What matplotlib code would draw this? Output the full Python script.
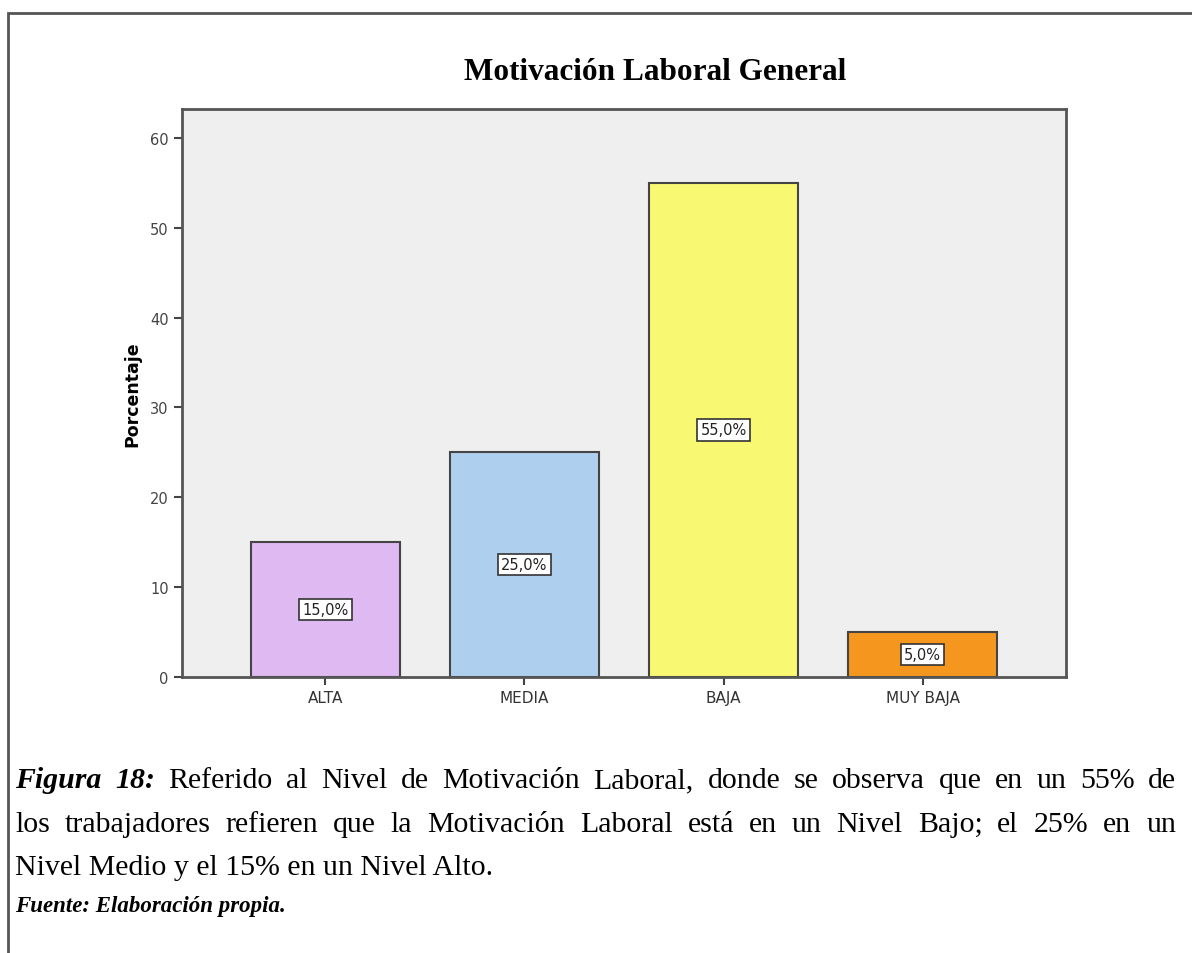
import matplotlib
matplotlib.use("Agg")
import matplotlib.pyplot as plt
from matplotlib.patches import Rectangle

# data
categories = ["ALTA", "MEDIA", "BAJA", "MUY BAJA"]
percent = [15.0, 25.0, 55.0, 5.0]
bar_colors = ["#dfb9f1", "#aecfee", "#f9f872", "#f5971f"]
y_ticks = [0, 10, 20, 30, 40, 50, 60]

title = "Motivación Laboral General"
ylabel = "Porcentaje"
caption_lines = [
    [("Figura", "bi"), ("18:", "bi"), ("Referido", "r"), ("al", "r"), ("Nivel", "r"), ("de", "r"),
     ("Motivación", "r"), ("Laboral,", "r"), ("donde", "r"), ("se", "r"), ("observa", "r"),
     ("que", "r"), ("en", "r"), ("un", "r"), (" 55%", "r"), ("de", "r")],
    [("los", "r"), ("trabajadores", "r"), ("refieren", "r"), ("que", "r"), ("la", "r"),
     ("Motivación", "r"), ("Laboral", "r"), ("está", "r"), ("en", "r"), ("un", "r"),
     ("Nivel", "r"), ("Bajo;", "r"), ("el", "r"), ("25%", "r"), ("en", "r"), ("un", "r")],
]
caption_last = "Nivel Medio y el 15% en un Nivel Alto."
source = "Fuente: Elaboración propia."

W, H = 1192, 954
fig = plt.figure(figsize=(W / 100, H / 100), dpi=100)

# outer frame of the document box
fig.add_artist(Rectangle((8 / W, -0.1), 1.2, 1 - 14 / H + 0.1, fill=False,
                         ec="#555555", lw=2, transform=fig.transFigure))

ax = fig.add_axes([182 / W, 1 - 678 / H, (1066 - 182) / W, (678 - 110) / H])
ax.set_facecolor("#efefef")
x = range(len(categories))
bars = ax.bar(x, percent, width=0.75, color=bar_colors, edgecolor="#444444", linewidth=1.5)
for xi, v in zip(x, percent):
    ax.text(xi, v / 2, f"{v:.1f}%".replace(".", ","), ha="center", va="center",
            fontsize=10.5, color="#222222",
            bbox=dict(boxstyle="square,pad=0.22", fc="white", ec="#333333", lw=1.2))

ax.set_xlim(-0.72, 3.72)
ax.set_ylim(0, 63.2)
ax.set_xticks(list(x))
ax.set_xticklabels(categories, fontsize=11, color="#333333")
ax.set_yticks(y_ticks)
ax.set_yticklabels([str(t) for t in y_ticks], fontsize=10.5, color="#444444")
ax.tick_params(direction="out", length=6, width=1.5, color="#444444")
for s in ax.spines.values():
    s.set_color("#555555")
    s.set_linewidth(2)
ax.set_ylabel(ylabel, fontsize=12.5, fontweight="bold", labelpad=6)

fig.text(655 / W, 1 - 72 / H, title, ha="center", va="center", fontsize=22.5,
         fontweight="bold", family="Liberation Serif")

# caption, justified across the box
renderer = fig.canvas.get_renderer()
cap_size = 21.5
x0, x1 = 15, 1176
baselines = [788, 832, 875]
for words, base in zip(caption_lines, baselines):
    texts = []
    for w, st in words:
        kw = dict(fontsize=cap_size, family="Liberation Serif", va="baseline")
        if st == "bi":
            kw.update(fontweight="bold", fontstyle="italic")
        texts.append(fig.text(0, 1 - base / H, w.strip(), **kw))
    widths = [t.get_window_extent(renderer).width for t in texts]
    gap = (x1 - x0 - sum(widths)) / (len(texts) - 1)
    pos = x0
    for t, wd in zip(texts, widths):
        t.set_x(pos / W)
        pos += wd + gap

fig.text(x0 / W, 1 - baselines[2] / H, caption_last, fontsize=cap_size,
         family="Liberation Serif", va="baseline")
fig.text(x0 / W, 1 - 912 / H, source, fontsize=16.5, family="Liberation Serif",
         fontweight="bold", fontstyle="italic", va="baseline")

fig.savefig("out.png", dpi=100)
